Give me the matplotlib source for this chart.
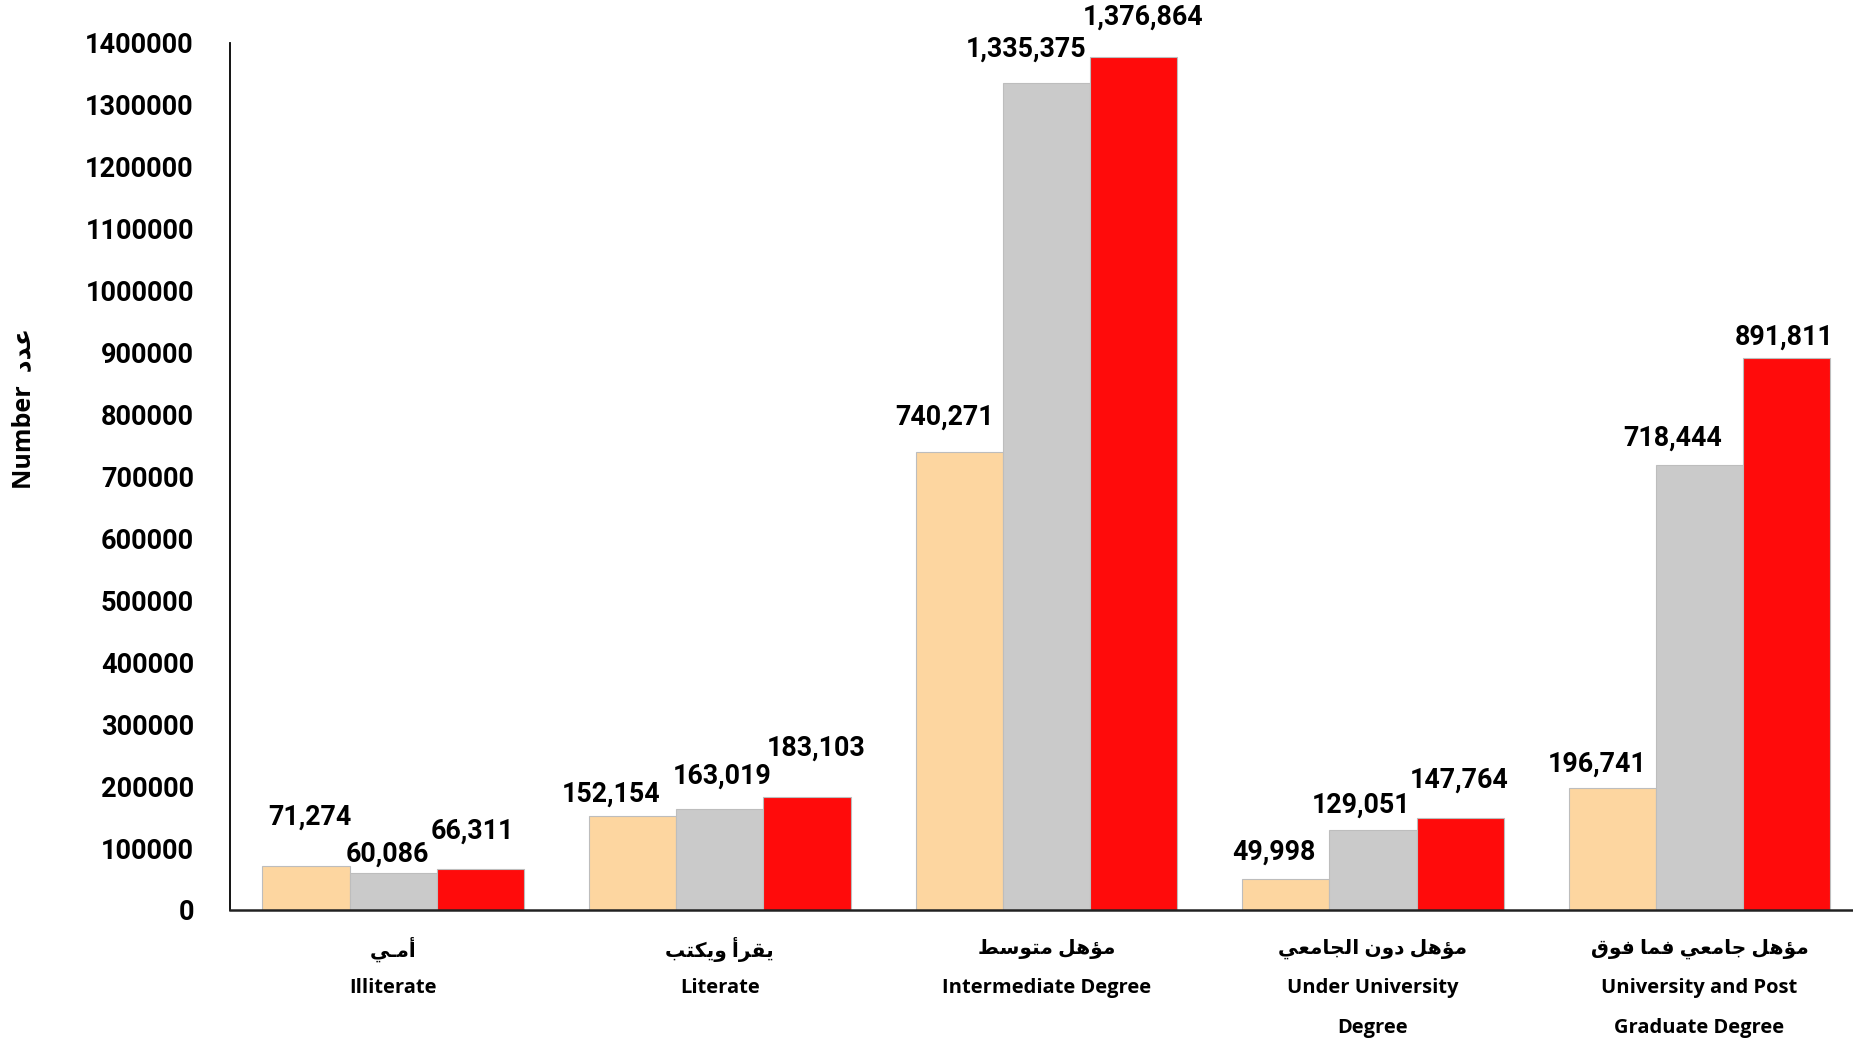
import numpy as np
import matplotlib
matplotlib.use("Agg")
import matplotlib.pyplot as plt

# ---------------- data ----------------
categories_ar = ["أمـي", "يقرأ ويكتب", "مؤهل متوسط", "مؤهل دون الجامعي", "مؤهل جامعي فما فوق"]
categories_en = ["Illiterate", "Literate", "Intermediate Degree",
                 "Under University\nDegree", "University and Post\nGraduate Degree"]
series_a = [71274, 152154, 740271, 49998, 196741]
series_b = [60086, 163019, 1335375, 129051, 718444]
series_c = [66311, 183103, 1376864, 147764, 891811]
yticks = [0, 100000, 200000, 300000, 400000, 500000, 600000, 700000,
          800000, 900000, 1000000, 1100000, 1200000, 1300000, 1400000]
ylabel_en = "Number"
ylabel_ar = "عدد"

# label offsets (points) for each series / category
label_offsets = [
    [(3, 41), (-18, 18), (-12, 29), (-10, 23), (-13, 20)],
    [(-5, 16), (2, 28), (-17, 29), (-10, 21), (-23, 23)],
    [(-7, 32), (8, 41), (8, 34), (-1, 32), (-2, 17)],
]
colors = ["#FDD6A0", "#CACACA", "#FF0B0B"]

# ---------------- minimal Arabic shaping ----------------
FORMS = {
    '\u0621': ('\uFE80', None, None, None),
    '\u0623': ('\uFE83', '\uFE84', None, None),
    '\u0624': ('\uFE85', '\uFE86', None, None),
    '\u0627': ('\uFE8D', '\uFE8E', None, None),
    '\u0628': ('\uFE8F', '\uFE90', '\uFE91', '\uFE92'),
    '\u062A': ('\uFE95', '\uFE96', '\uFE97', '\uFE98'),
    '\u062C': ('\uFE9D', '\uFE9E', '\uFE9F', '\uFEA0'),
    '\u062F': ('\uFEA9', '\uFEAA', None, None),
    '\u0631': ('\uFEAD', '\uFEAE', None, None),
    '\u0633': ('\uFEB1', '\uFEB2', '\uFEB3', '\uFEB4'),
    '\u0637': ('\uFEC1', '\uFEC2', '\uFEC3', '\uFEC4'),
    '\u0639': ('\uFEC9', '\uFECA', '\uFECB', '\uFECC'),
    '\u0641': ('\uFED1', '\uFED2', '\uFED3', '\uFED4'),
    '\u0642': ('\uFED5', '\uFED6', '\uFED7', '\uFED8'),
    '\u0643': ('\uFED9', '\uFEDA', '\uFEDB', '\uFEDC'),
    '\u0644': ('\uFEDD', '\uFEDE', '\uFEDF', '\uFEE0'),
    '\u0645': ('\uFEE1', '\uFEE2', '\uFEE3', '\uFEE4'),
    '\u0646': ('\uFEE5', '\uFEE6', '\uFEE7', '\uFEE8'),
    '\u0647': ('\uFEE9', '\uFEEA', '\uFEEB', '\uFEEC'),
    '\u0648': ('\uFEED', '\uFEEE', None, None),
    '\u064A': ('\uFEF1', '\uFEF2', '\uFEF3', '\uFEF4'),
}
TATWEEL = '\u0640'
LAM_ALEF = {'\u0627': ('\uFEFB', '\uFEFC'), '\u0623': ('\uFEF7', '\uFEF8')}


def _dual(c):
    return c == TATWEEL or (c in FORMS and FORMS[c][2] is not None)


def _arabic(c):
    return c == TATWEEL or c in FORMS


def shape_ar(s):
    out = []
    i = 0
    n = len(s)
    while i < n:
        c = s[i]
        prev = s[i - 1] if i > 0 else ''
        jp = _arabic(c) and prev != '' and _dual(prev)
        if c == '\u0644' and i + 1 < n and s[i + 1] in LAM_ALEF:
            iso, fin = LAM_ALEF[s[i + 1]]
            out.append(fin if jp else iso)
            i += 2
            continue
        if c == TATWEEL or c not in FORMS:
            out.append(c)
            i += 1
            continue
        nxt = s[i + 1] if i + 1 < n else ''
        jn = _dual(c) and nxt != '' and _arabic(nxt)
        iso, fin, ini, med = FORMS[c]
        if jp and jn:
            out.append(med)
        elif jp:
            out.append(fin)
        elif jn:
            out.append(ini)
        else:
            out.append(iso)
        i += 1
    return ''.join(out)[::-1]


# ---------------- plot ----------------
fig = plt.figure(figsize=(18.53, 10.42), dpi=100)
ax = fig.add_axes([230 / 1853, 1 - 910 / 1042, 1 - 230 / 1853, (910 - 43) / 1042])

x = np.arange(len(categories_en))
w = 0.267
series = [series_a, series_b, series_c]
for k, (vals, col) in enumerate(zip(series, colors)):
    xs = x + (k - 1) * w
    ax.bar(xs, vals, width=w, color=col, edgecolor="#BDBDBD", linewidth=0.8, zorder=2)
    for xi, v, (dx, dy) in zip(xs, vals, label_offsets[k]):
        ax.annotate(f"{v:,}", xy=(xi, v), xytext=(dx * 0.851, dy * 0.851),
                    textcoords="offset points", ha="center", va="center",
                    fontsize=19.3, fontweight="bold", family="Roboto",
                    color="black", annotation_clip=False)

ax.set_xlim(-0.5, 4.47)
ax.set_ylim(0, 1400000)
ax.set_yticks(yticks)
ax.set_yticklabels([str(t) for t in yticks], fontsize=19.5, fontweight="bold",
                   family="Roboto")
ax.tick_params(axis="y", length=0, pad=26)
ax.set_xticks(x)
ax.set_xticklabels([])
ax.tick_params(axis="x", length=0)

for sp in ["top", "right"]:
    ax.spines[sp].set_visible(False)
ax.spines["left"].set_color("black")
ax.spines["left"].set_linewidth(1.3)
ax.spines["bottom"].set_color("#222222")
ax.spines["bottom"].set_linewidth(1.8)

fam = ["Open Sans", "DejaVu Sans"]
for xi, ar, en in zip(x, categories_ar, categories_en):
    ax.annotate(shape_ar(ar), xy=(xi, 0), xytext=(0, -28.2), textcoords="offset points",
                ha="center", va="center", fontsize=14.5, fontweight="bold", family=fam,
                annotation_clip=False)
    for j, line in enumerate(en.split("\n")):
        ax.annotate(line, xy=(xi, 0), xytext=(0, -56.2 - 28.8 * j), textcoords="offset points",
                    ha="center", va="center", fontsize=14.5, fontweight="bold", family=fam,
                    annotation_clip=False)

fig.text(24 / 1853, 1 - 408 / 1042, ylabel_en + "  " + shape_ar(ylabel_ar), rotation=90,
         ha="center", va="center", fontsize=18, fontweight="bold", family=fam)

fig.savefig("out.png", dpi=100, facecolor="white")
